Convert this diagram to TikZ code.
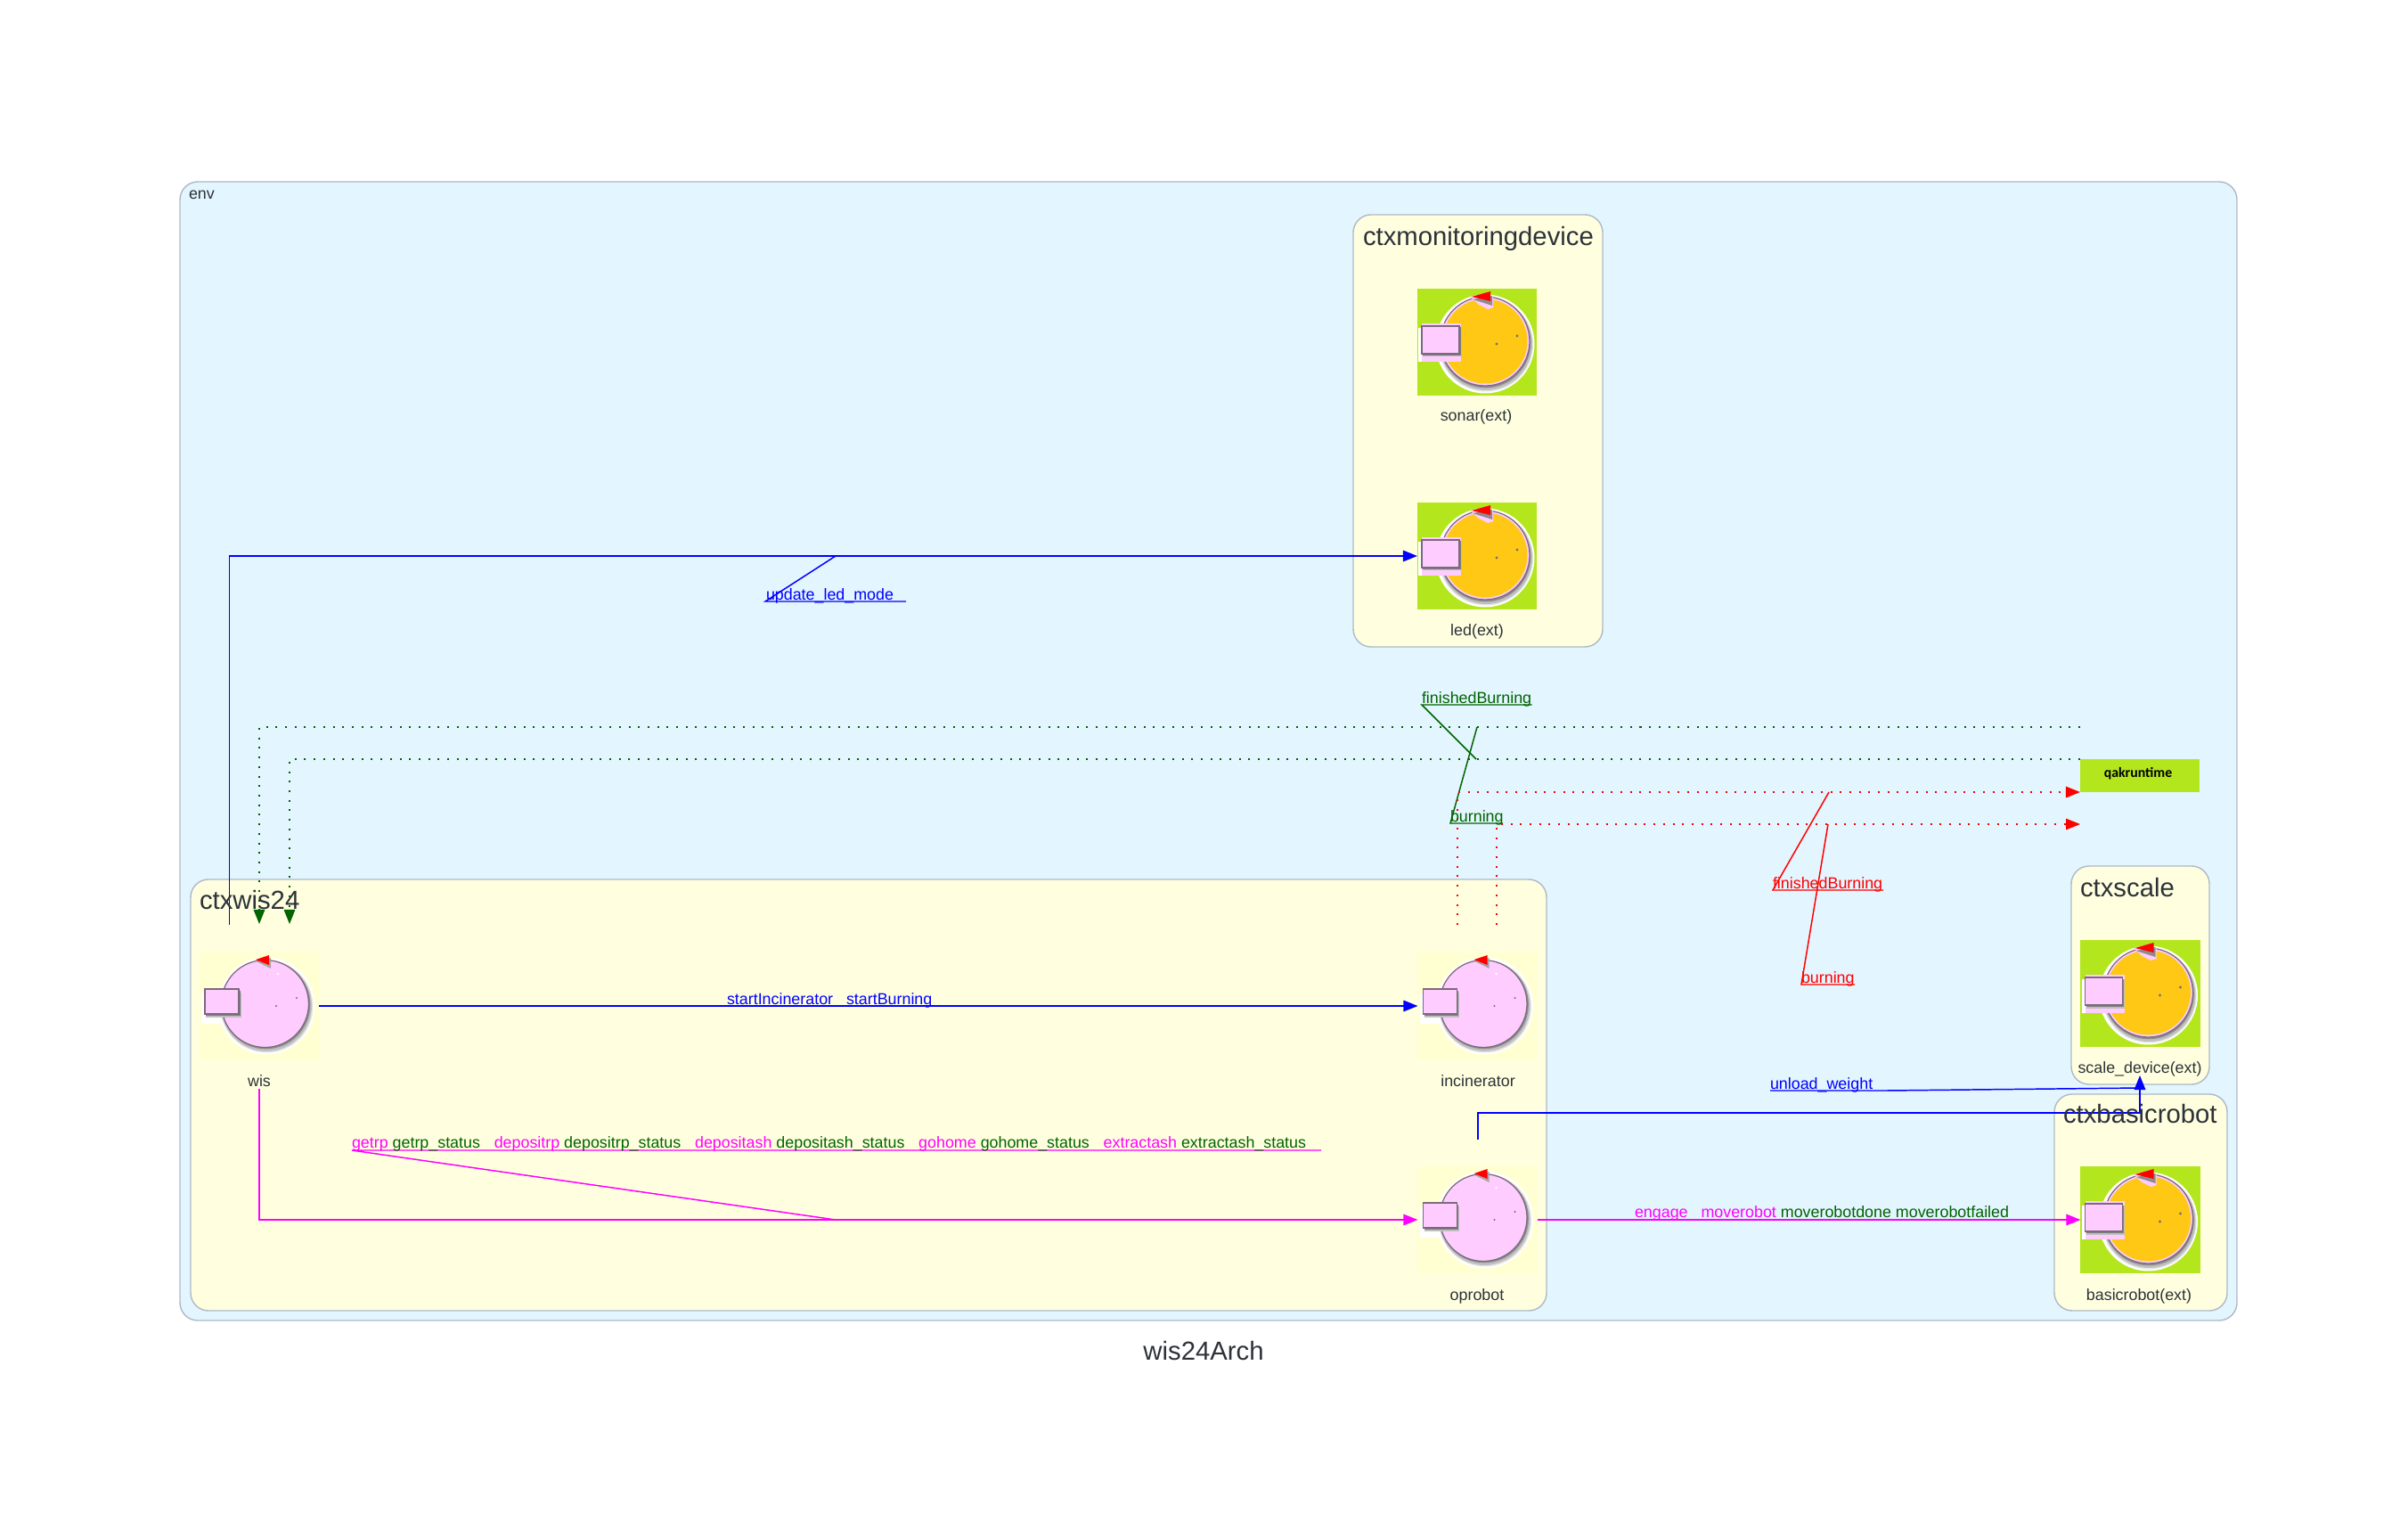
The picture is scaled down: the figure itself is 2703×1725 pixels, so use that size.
\documentclass[tikz,border=0pt]{standalone}
\usepackage{fontspec}
\setmainfont{Liberation Sans}
\newfontfamily\qakfont{Carlito}
\usetikzlibrary{arrows.meta}
\definecolor{envfill}{HTML}{E3F5FE}
\definecolor{clfill}{HTML}{FFFFDF}
\definecolor{clline}{HTML}{AEB9C6}
\definecolor{inktext}{HTML}{2C3238}
\definecolor{extbg}{HTML}{B4E61E}
\definecolor{intbg}{HTML}{FFFFD2}
\definecolor{orangeface}{HTML}{FFC814}
\definecolor{pinkface}{HTML}{FFCCFF}
\definecolor{edgeactor}{HTML}{7A6A7C}
\definecolor{dgreen}{HTML}{006400}
\definecolor{cblue}{HTML}{0000FF}
\definecolor{cmag}{HTML}{FF00FF}
\definecolor{cred}{HTML}{FF0000}
\newcommand\smalltxt{\fontsize{5.08}{6}\selectfont}
\newcommand\bigtxt{\fontsize{8.33}{10}\selectfont}
\newcommand\lgap{~~~\hspace{0.25pt}}
\tikzset{
 envbox/.style={draw=clline,fill=envfill,line width=0.4pt,rounded corners=0.2cm},
 ctxbox/.style={draw=clline,fill=clfill,line width=0.4pt,rounded corners=0.2cm},
 actorbox/.style={rectangle,minimum width=1.34cm,minimum height=1.2cm,inner sep=0pt,outer sep=0pt,draw=none},
 extactor/.style={actorbox,fill=extbg},
 intactor/.style={actorbox,fill=intbg},
 conn/.style={line width=0.42pt},
 head/.style={-{Triangle[length=0.16cm,width=0.125cm,sep=0pt]}},
 dots/.style={line width=0.37pt,dash pattern=on 0.02cm off 0.087cm},
 txt/.style={anchor=base west,inner sep=0pt,outer sep=0pt,font=\smalltxt},
 nodelabel/.style={anchor=base,inner sep=0pt,outer sep=0pt,font=\smalltxt,text=inktext},
 title/.style={anchor=base west,inner sep=0pt,outer sep=0pt,font=\bigtxt,text=inktext},
}
\newcommand\actorext[1]{%
 \begin{scope}[shift={(#1.center)}]
  \fill[white] (9,2) circle[radius=55.5];
  \fill[black!10] (10,2.5) circle[radius=53];
  \fill[black!25] (10,2) circle[radius=52];
  \fill[black!45] (9.5,0.5) circle[radius=50.8];
  \fill[pinkface,draw=edgeactor,line width=0.35pt] (9,-1) circle[radius=50];
  \fill[orangeface] (9,-1) circle[radius=47.5];
  \fill[pinkface] (-8,-51) -- (18,-51) -- (18,-39) -- (12,-37) -- (2,-42) -- cycle;
  \fill[white] (-66,-16) rectangle (-43,22);
  \fill[pinkface] (-62,-21) rectangle (-18,22);
  \fill[black!25] (-61,-16) rectangle (-17.5,16.5);
  \fill[black!50] (-61,-16.5) rectangle (-18.5,15);
  \fill[pinkface,draw=edgeactor,line width=0.5pt] (-62,-18) rectangle (-20,13);
  \fill[black!45] (-5,-48) -- (17,-52) -- (17,-41) -- cycle;
  \fill[cred] (-6,-51) -- (15,-57) -- (15,-46) -- cycle;
  \fill[edgeactor] (22,2) circle[radius=1.6] (45,-7) circle[radius=1.6];
 \end{scope}}
\newcommand\actorint[1]{%
 \begin{scope}[shift={(#1.center)}]
  \fill[white] (8,0) circle[radius=54.5];
  \fill[black!10] (8.5,0.5) circle[radius=52];
  \fill[black!25] (8,0) circle[radius=51];
  \fill[black!45] (7.5,-1.5) circle[radius=49.8];
  \fill[pinkface,draw=edgeactor,line width=0.35pt] (6.5,-2.5) circle[radius=49];
  \fill[white] (-65,-14) rectangle (-44,20);
  \fill[black!25] (-60,-15) rectangle (-20.5,12.5);
  \fill[black!50] (-60,-17.5) rectangle (-21.5,11);
  \fill[pinkface,draw=edgeactor,line width=0.5pt] (-61,-19) rectangle (-23,9);
  \fill[black!35] (-3,-50) -- (13,-54) -- (13,-42) -- cycle;
  \fill[cred] (-4,-52) -- (11,-57) -- (11,-46) -- cycle;
  \fill[edgeactor] (19,0) circle[radius=1.2] (42,-9) circle[radius=1.2];
  \fill[white] (21,-36) circle[radius=1.5];
 \end{scope}}
\begin{document}
\begin{tikzpicture}[x=0.01cm,y=-0.01cm]
\useasboundingbox (0,0) rectangle (2703,1725);
% clusters
\draw[envbox] (202,204) rectangle (2511,1482);
\draw[ctxbox] (1519,241) rectangle (1799,726);
\draw[ctxbox] (214,987) rectangle (1736,1471);
\draw[ctxbox] (2325,972) rectangle (2480,1217);
\draw[ctxbox] (2306,1228) rectangle (2500,1471);
% actors
\node[extactor] (sonar) at (1658,384) {};
\node[extactor] (led) at (1658,624) {};
\node[intactor] (wis) at (291,1129) {};
\node[intactor] (incinerator) at (1658.5,1129) {};
\node[intactor] (oprobot) at (1658.5,1369) {};
\node[extactor] (scaledevice) at (2402.5,1115) {};
\node[extactor] (basicrobot) at (2402.5,1369) {};
\node[rectangle,fill=extbg,minimum width=1.34cm,minimum height=0.37cm,inner sep=0pt,outer sep=0pt] (qak) at (2402,870.5) {};
\actorext{sonar}\actorext{led}\actorext{scaledevice}\actorext{basicrobot}
\actorint{wis}\actorint{incinerator}\actorint{oprobot}
% free ends and bends
\coordinate (wisTop) at (257.5,1038);
\coordinate (wisIn1) at (291,1037);
\coordinate (wisIn2) at (325,1037);
\coordinate (greenFar) at (2335,816);
\coordinate (redFar) at (2335,925);
\coordinate (incOut1) at (1636,1038);
\coordinate (incOut2) at (1680,1038);
\coordinate (wisBottom) at (291,1222);
\coordinate (opTop) at (1659,1279);
\coordinate (unloadBend) at (2402,1249);
\coordinate (scaleIn) at (2402,1207);
\coordinate (ledKink) at (938,624);
\coordinate (ledU1) at (859,675);
\coordinate (ledU2) at (1017,675);
\coordinate (opKink) at (938,1369);
\coordinate (opU1) at (395,1291);
\coordinate (opU2) at (1483,1291);
\coordinate (unloadKink) at (2402,1221);
\coordinate (unloadU1) at (2117,1224);
\coordinate (unloadU2) at (1987,1224);
\coordinate (gfKink) at (1657,852);
\coordinate (gfU1) at (1596,791);
\coordinate (gfU2) at (1719.5,791);
\coordinate (gbKink) at (1658,816);
\coordinate (gbU1) at (1628,924);
\coordinate (gbU2) at (1687,924);
\coordinate (rfKink) at (2053,889);
\coordinate (rfU1) at (1990,999);
\coordinate (rfU2) at (2114,999);
\coordinate (rbKink) at (2052,925);
\coordinate (rbU1) at (2022,1105);
\coordinate (rbU2) at (2082,1105);
% connectors
\draw[conn,head,draw=cblue] (wisTop) |- (led.west);
\draw[conn,draw=cblue] (ledKink) -- (ledU1) -- (ledU2);
\draw[conn,head,draw=cblue] (wis.east) -- (incinerator.west);
\draw[conn,head,draw=cmag] (wisBottom) |- (oprobot.west);
\draw[conn,draw=cmag] (opKink) -- (opU1) -- (opU2);
\draw[conn,head,draw=cmag] (oprobot.east) -- (basicrobot.west);
\draw[conn,head,draw=cblue] (opTop) |- (unloadBend) -- (scaleIn);
\draw[conn,draw=cblue] (unloadKink) -- (unloadU1) -- (unloadU2);
\draw[dots,head,draw=dgreen] (greenFar) -| (wisIn1);
\draw[dots,head,draw=dgreen] (qak.north west) -| (wisIn2);
\draw[conn,draw=dgreen] (gfKink) -- (gfU1) -- (gfU2);
\draw[conn,draw=dgreen] (gbKink) -- (gbU1) -- (gbU2);
\draw[dots,head,draw=cred] (incOut1) |- (qak.south west);
\draw[dots,head,draw=cred] (incOut2) |- (redFar);
\draw[conn,draw=cred] (rfKink) -- (rfU1) -- (rfU2);
\draw[conn,draw=cred] (rbKink) -- (rbU1) -- (rbU2);
% titles
\node[txt,text=inktext] (envT) at (212,224) {env};
\node[title] (t1) at (1530,276) {ctxmonitoringdevice};
\node[title] (t2) at (224,1020) {ctxwis24};
\node[title] (t3) at (2335,1006) {ctxscale};
\node[title] (t4) at (2316,1260) {ctxbasicrobot};
\node[nodelabel,font=\bigtxt] (t5) at (1351,1526) {wis24Arch};
\node[anchor=base,inner sep=0pt,font=\qakfont\bfseries\fontsize{4.5}{5}\selectfont,text=black] (qakT) at (2400,872) {qakruntime};
% actor labels
\node[nodelabel] (l1) at (1657,473) {sonar(ext)};
\node[nodelabel] (l2) at (1658,713) {led(ext)};
\node[nodelabel] (l3) at (291,1219) {wis};
\node[nodelabel] (l4) at (1659,1219) {incinerator};
\node[nodelabel] (l5) at (1658,1459) {oprobot};
\node[nodelabel] (l6) at (2402,1204) {scale\_device(ext)};
\node[nodelabel] (l7) at (2401,1459) {basicrobot(ext)};
% edge labels
\node[txt,text=cblue] (e1) at (860,673) {update\_led\_mode};
\node[txt,text=cblue] (e2) at (816,1127) {startIncinerator~~~startBurning};
\node[txt] (e3) at (395,1288) {\textcolor{cmag}{getrp} \textcolor{dgreen}{getrp\_status}\lgap\textcolor{cmag}{depositrp} \textcolor{dgreen}{depositrp\_status}\lgap\textcolor{cmag}{depositash} \textcolor{dgreen}{depositash\_status}\lgap\textcolor{cmag}{gohome} \textcolor{dgreen}{gohome\_status}\lgap\textcolor{cmag}{extractash} \textcolor{dgreen}{extractash\_status}};
\node[txt] (e4) at (1835,1366) {\textcolor{cmag}{engage}~~~\textcolor{cmag}{moverobot} \textcolor{dgreen}{moverobotdone moverobotfailed}};
\node[txt,text=cblue] (e5) at (1987,1222) {unload\_weight};
\node[txt,text=dgreen] (e6) at (1596,789) {finishedBurning};
\node[txt,text=dgreen] (e7) at (1628,922) {burning};
\node[txt,text=cred] (e8) at (1990,997) {finishedBurning};
\node[txt,text=cred] (e9) at (2022,1103) {burning};
\end{tikzpicture}
\end{document}
